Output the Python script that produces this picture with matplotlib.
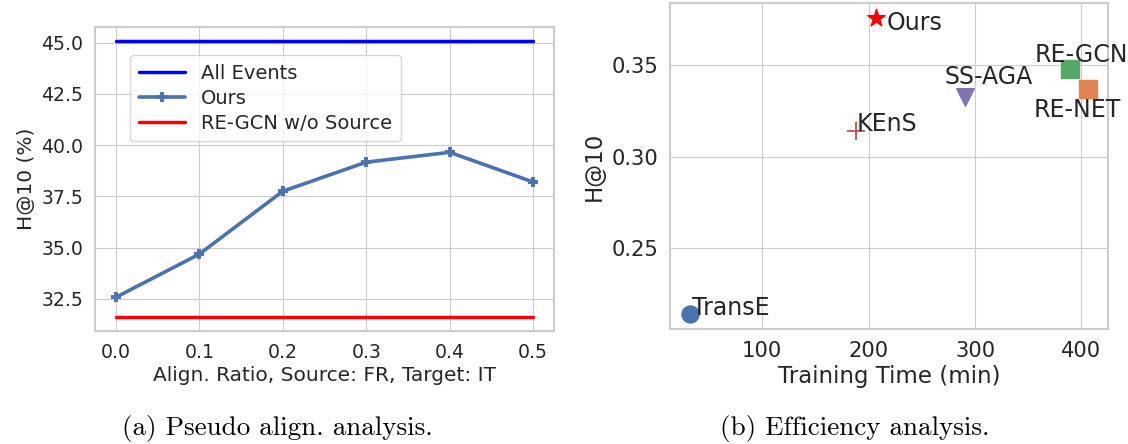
import matplotlib
matplotlib.use("Agg")
import matplotlib.pyplot as plt
import seaborn as sns
import numpy as np

# (a) pseudo alignment analysis
ratios = [0.0, 0.1, 0.2, 0.3, 0.4, 0.5]
ours_h10 = [32.57, 34.68, 37.75, 39.17, 39.65, 38.2]
all_events = 45.08
regcn_no_src = 31.6

# (b) efficiency analysis
methods = ["TransE", "KEnS", "Ours", "SS-AGA", "RE-GCN", "RE-NET"]
train_time = [32, 188, 207, 291, 389, 406]
h10 = [0.214, 0.314, 0.376, 0.333, 0.348, 0.337]

sns.set_style("whitegrid")
plt.rcParams["font.family"] = ["DejaVu Sans"]
deep = sns.color_palette("deep")

fig = plt.figure(figsize=(11.28, 4.44), dpi=100)

# Left panel
ax1 = fig.add_axes([0.0842, 0.2545, 0.407, 0.684])
ax1.plot(ratios, [all_events] * len(ratios), color="blue", lw=2.5, label="All Events")
ax1.plot(ratios, ours_h10, color=deep[0], lw=2.6, marker="+", ms=7, mew=2.8, label="Ours")
ax1.plot(ratios, [regcn_no_src] * len(ratios), color="red", lw=2.5, label="RE-GCN w/o Source")
ax1.set_xticks(ratios)
ax1.set_yticks([32.5, 35.0, 37.5, 40.0, 42.5, 45.0])
ax1.tick_params(labelsize=13.6, colors="#262626", pad=5)
ax1.set_xlabel("Align. Ratio, Source: FR, Target: IT", fontsize=14.5, color="#262626", labelpad=3)
ax1.set_ylabel("H@10 (%)", fontsize=14.5, color="#262626", labelpad=4)
ax1.legend(loc="upper left", bbox_to_anchor=(0.055, 0.94), fontsize=14, handlelength=2.4,
           frameon=True, borderpad=0.45, labelspacing=0.3)
for s in ax1.spines.values():
    s.set_color("#cccccc")
    s.set_linewidth(1.5)

# Right panel
ax2 = fig.add_axes([0.594, 0.259, 0.388, 0.734])
styles = {
    "TransE": dict(marker="o", color=deep[0], s=150),
    "KEnS": dict(marker="+", color=deep[3], s=150, linewidths=1.3),
    "Ours": dict(marker="*", color="red", s=170),
    "SS-AGA": dict(marker="v", color=deep[4], s=160),
    "RE-GCN": dict(marker="s", color=deep[2], s=170),
    "RE-NET": dict(marker="s", color=deep[1], s=170),
}
offsets = {
    "TransE": (2, -1),
    "KEnS": (1, 0),
    "Ours": (11, -12),
    "SS-AGA": (-21, 13),
    "RE-GCN": (-35, 7),
    "RE-NET": (-54, -28),
}
for m, t, h in zip(methods, train_time, h10):
    ax2.scatter(t, h, zorder=3, **styles[m])
    ax2.annotate(m, (t, h), xytext=offsets[m], textcoords="offset pixels",
                 fontsize=17, color="#262626", ha="left", va="baseline")
ax2.set_xticks([100, 200, 300, 400])
ax2.set_yticks([0.25, 0.30, 0.35])
ax2.tick_params(labelsize=15.2, colors="#262626", pad=5)
ax2.set_xlabel("Training Time (min)", fontsize=16.5, color="#262626", labelpad=3)
ax2.set_ylabel("H@10", fontsize=16.5, color="#262626", labelpad=4)
for s in ax2.spines.values():
    s.set_color("#cccccc")
    s.set_linewidth(1.5)

# Captions
fig.text(0.2456, 0.004, "(a) Pseudo align. analysis.", family="cmr10", fontsize=19.5,
         ha="center", va="bottom", color="black")
fig.text(0.758, 0.004, "(b) Efficiency analysis.", family="cmr10", fontsize=19.5,
         ha="center", va="bottom", color="black")

fig.savefig("out.png", dpi=100)
